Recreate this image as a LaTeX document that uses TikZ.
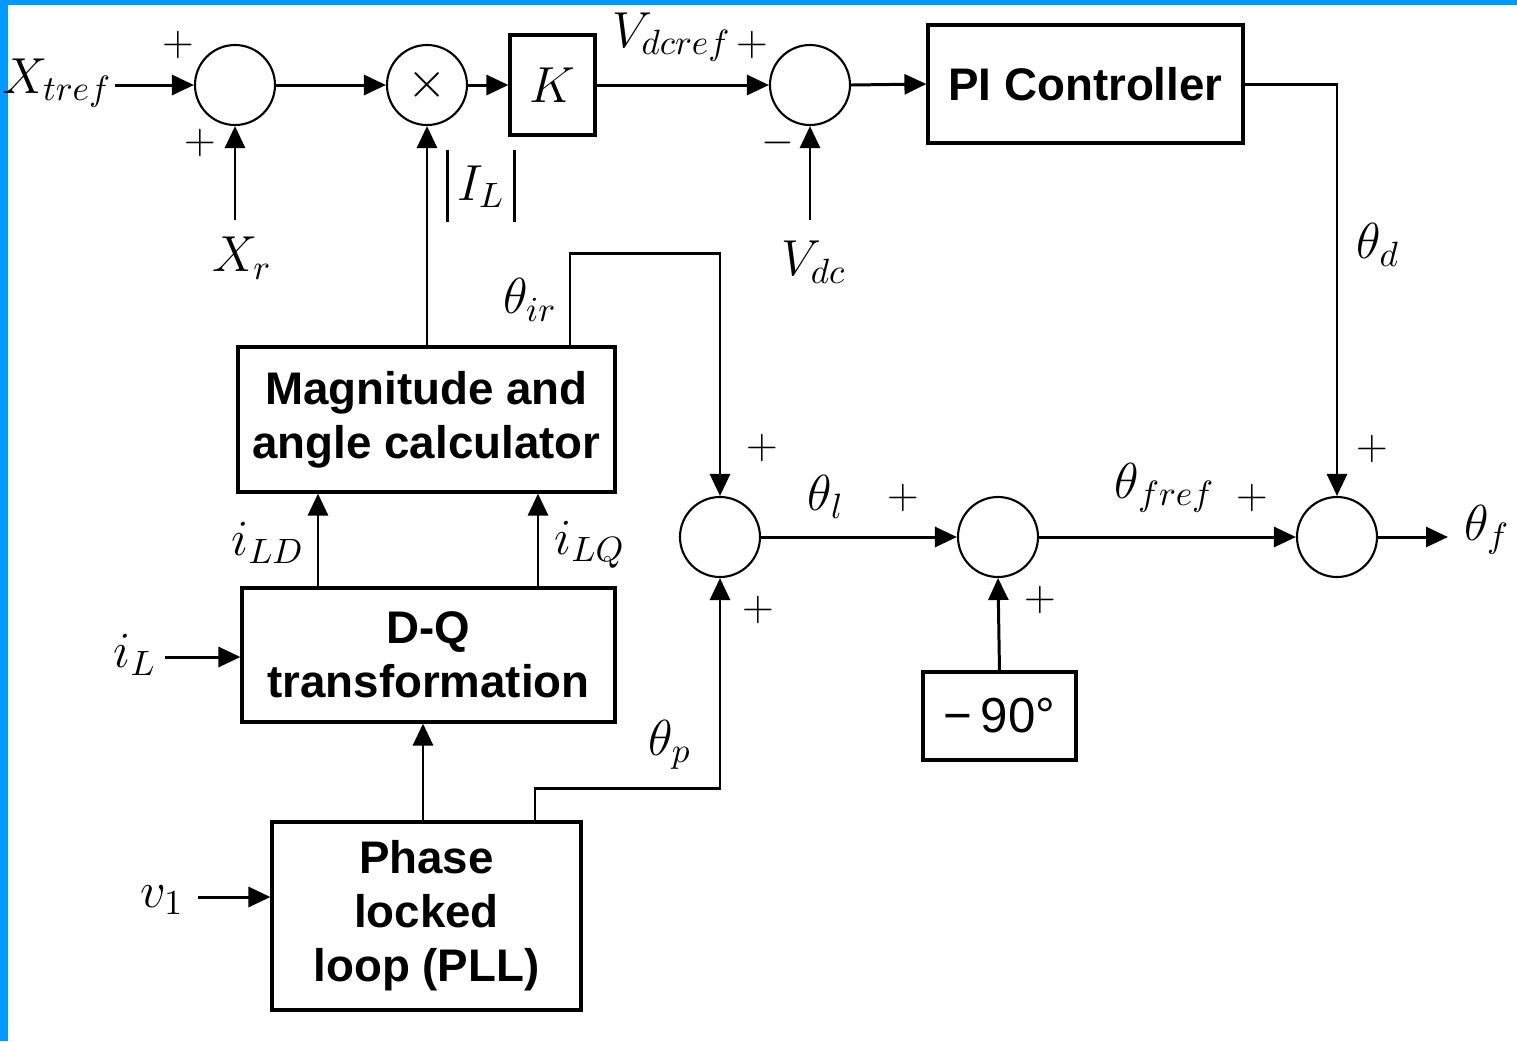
\documentclass[tikz,border=0pt]{standalone}
\usepackage{fontspec}
\usepackage{amsmath}
\usetikzlibrary{arrows.meta}
\newfontfamily\blockfont{Liberation Sans}
\definecolor{frameblue}{RGB}{0,153,255}
\newcommand{\magbar}{\vrule height 0.50cm depth 0.22cm width 0.8pt}

\begin{document}
\begin{tikzpicture}[
    block/.style={draw, line width=0.9pt, align=center, inner sep=0pt, font=\blockfont\bfseries\fontsize{13}{15.4}\selectfont},
    sumnode/.style={draw, circle, line width=0.6pt, minimum size=0.8cm, inner sep=0pt},
    arrow/.style={->, line width=0.85pt, >={Triangle[length=2.2mm,width=2mm]}},
    sig/.style={font=\fontsize{14}{16}\selectfont},
    sgn/.style={font=\fontsize{12}{14}\selectfont}
]
\useasboundingbox (0,0) rectangle (15.17,-10.41);

% Frame
\fill[frameblue] (0,0) rectangle (0.08,-10.41);
\fill[frameblue] (0,0) rectangle (15.17,-0.05);

% Top row
\node[sumnode] (sum1) at (2.35,-0.85) {};
\node[sumnode, sig] (mult) at (4.27,-0.85) {$\times$};
\node[block, minimum width=0.85cm, minimum height=1.0cm, font=\fontsize{14}{16}\selectfont] (gain) at (5.525,-0.85) {$K$};
\node[sumnode] (sum3) at (8.10,-0.85) {};
\node[block, minimum width=3.15cm, minimum height=1.18cm] (pi) at (10.855,-0.84) {PI Controller};

% Left blocks
\node[block, minimum width=3.77cm, minimum height=1.45cm] (mag) at (4.265,-4.195) {Magnitude and\\angle calculator};
\node[block, minimum width=3.73cm, minimum height=1.34cm] (dq) at (4.285,-6.55) {D-Q\\transformation};
\node[block, minimum width=3.09cm, minimum height=1.88cm] (pll) at (4.265,-9.16) {Phase\\locked\\loop (PLL)};

% Angle sums
\node[sumnode] (sum4) at (7.20,-5.37) {};
\node[sumnode] (sum5) at (9.98,-5.37) {};
\node[sumnode] (sumf) at (13.37,-5.37) {};
\node[block, minimum width=1.53cm, minimum height=0.88cm, font=\blockfont\fontsize{14}{16}\selectfont] (shift) at (9.995,-7.16) {−\,90°};

% Free ends
\coordinate (xtref) at (1.15,-0.85);
\coordinate (xr) at (2.35,-2.20);
\coordinate (vdc) at (8.10,-2.20);
\coordinate (il) at (1.65,-6.57);
\coordinate (vone) at (1.98,-8.97);
\coordinate (thf) at (14.48,-5.37);

% Top row arrows
\draw[arrow] (xtref) -- (sum1.west);
\draw[arrow] (xr) -- (sum1.south);
\draw[arrow] (sum1.east) -- (mult.west);
\draw[arrow] (mult.east) -- (gain.west);
\draw[arrow] (gain.east) -- (sum3.west);
\draw[arrow] (vdc) -- (sum3.south);
\draw[arrow] (sum3.east) -- (pi.west);
\draw[arrow] (pi.east) -| (sumf.north);
\draw[arrow] (mult |- mag.north) -- (mult.south);

% Left blocks arrows
\draw[arrow] (il) -- (il -| dq.west);
\draw[arrow] (vone) -- (vone -| pll.west);
\draw[arrow] (pll.north -| 4.23,0) -- (dq.south -| 4.23,0);
\draw[arrow] (dq.north -| 3.18,0) -- (mag.south -| 3.18,0);
\draw[arrow] (dq.north -| 5.38,0) -- (mag.south -| 5.38,0);
\draw[arrow] (mag.north -| 5.70,0) -- ++(0,0.92) -| (sum4.north);
\draw[arrow] (pll.north -| 5.35,0) -- ++(0,0.32) -| (sum4.south);

% Angle arrows
\draw[arrow] (sum4.east) -- (sum5.west);
\draw[arrow] (shift.north) -- (sum5.south);
\draw[arrow] (sum5.east) -- (sumf.west);
\draw[arrow] (sumf.east) -- (thf);

% Signal labels
\node[sig] (lxtref) at (0.57,-0.83) {$X_{tref}$};
\node[sig] (lxr) at (2.42,-2.58) {$X_r$};
\node[sig] (lil) at (4.81,-1.86) {$\magbar\,I_L\,\magbar$};
\node[sig] (lvdcref) at (6.72,-0.37) {$V_{dcref}$};
\node[sig] (lvdc) at (8.14,-2.62) {$V_{dc}$};
\node[sig] (lthd) at (13.78,-2.45) {$\theta_d$};
\node[sig] (lthir) at (5.30,-3.00) {$\theta_{ir}$};
\node[sig] (lthl) at (8.26,-4.97) {$\theta_l$};
\node[sig] (lthfref) at (11.65,-4.88) {$\theta_{fref}$};
\node[sig] (lthf) at (14.87,-5.30) {$\theta_f$};
\node[sig] (lild) at (2.68,-5.43) {$i_{LD}$};
\node[sig] (lilq) at (5.90,-5.45) {$i_{LQ}$};
\node[sig] (lil2) at (1.35,-6.55) {$i_L$};
\node[sig] (lthp) at (6.70,-7.45) {$\theta_p$};
\node[sig] (lvone) at (1.62,-9.00) {$v_1$};

% Signs
\node[sgn] (s1) at (1.78,-0.45) {$+$};
\node[sgn] (s2) at (2.00,-1.43) {$+$};
\node[sgn] (s3) at (7.52,-0.45) {$+$};
\node[sgn] (s4) at (7.78,-1.43) {$-$};
\node[sgn] (s5) at (13.72,-4.49) {$+$};
\node[sgn] (s6) at (7.62,-4.48) {$+$};
\node[sgn] (s7) at (7.58,-6.10) {$+$};
\node[sgn] (s8) at (9.03,-4.98) {$+$};
\node[sgn] (s9) at (10.40,-6.00) {$+$};
\node[sgn] (s10) at (12.52,-4.98) {$+$};

\end{tikzpicture}
\end{document}
